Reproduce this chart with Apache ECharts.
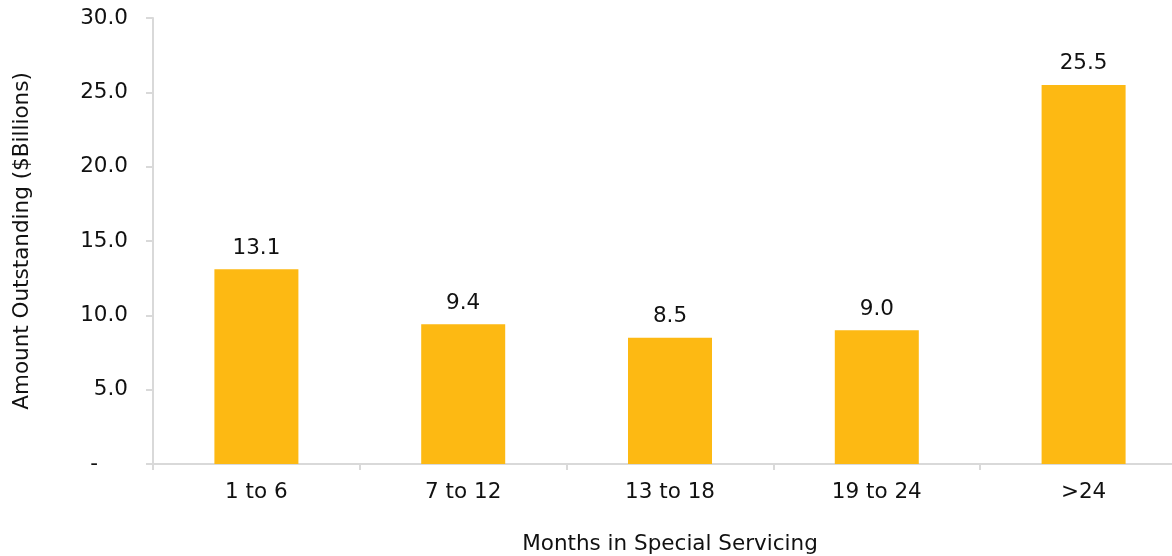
<!DOCTYPE html>
<html>
<head>
<meta charset="utf-8">
<script src="https://cdn.jsdelivr.net/npm/echarts@6/dist/echarts.min.js"></script>
<style>
html,body{margin:0;padding:0;background:#fff;overflow:hidden;}
#chart{width:1172px;height:556px;}
</style>
</head>
<body>
<div id="chart"></div>
<script>
const categories = ['1 to 6', '7 to 12', '13 to 18', '19 to 24', '>24'];
const values = [13.1, 9.4, 8.5, 9.0, 25.5];
const yTicks = [0, 5, 10, 15, 20, 25, 30];

const FONT = 'DejaVu Sans';
const FS = 21.5;
const TXT = '#111111';
const chart = echarts.init(document.getElementById('chart'), null, {renderer: 'canvas', width: 1172, height: 556});
chart.setOption({
  animation: false,
  backgroundColor: '#ffffff',
  grid: {left: 153, top: 18, width: 1034, height: 446, containLabel: false, outerBoundsMode: 'none'},
  xAxis: {
    type: 'category',
    data: categories,
    name: 'Months in Special Servicing',
    nameLocation: 'middle',
    nameGap: 69,
    nameTextStyle: {fontFamily: FONT, fontSize: FS, color: TXT},
    axisLine: {lineStyle: {color: '#d9d9d9', width: 2}},
    axisTick: {show: true, alignWithLabel: false, length: 6, lineStyle: {color: '#d9d9d9', width: 2}},
    axisLabel: {fontFamily: FONT, fontSize: FS, color: TXT, margin: 17}
  },
  yAxis: {
    type: 'value',
    min: yTicks[0],
    max: yTicks[yTicks.length - 1],
    interval: 5,
    name: 'Amount Outstanding ($Billions)',
    nameLocation: 'middle',
    nameGap: 120,
    nameTextStyle: {fontFamily: FONT, fontSize: FS, color: TXT},
    splitLine: {show: false},
    axisLine: {show: true, lineStyle: {color: '#d9d9d9', width: 2}},
    axisTick: {show: true, length: 7, lineStyle: {color: '#d9d9d9', width: 2}},
    axisLabel: {
      fontFamily: FONT, fontSize: FS, color: TXT, margin: 25,
      formatter: v => v === 0 ? '{d|-}' : v.toFixed(1),
      rich: {d: {fontFamily: FONT, fontSize: FS, color: TXT, padding: [0, 30, 0, 0]}}
    }
  },
  series: [{
    type: 'bar',
    data: values,
    barWidth: 84,
    itemStyle: {color: '#FDB913'},
    label: {
      show: true, position: 'top', distance: 10,
      fontFamily: FONT, fontSize: FS, color: TXT,
      formatter: p => p.value.toFixed(1)
    }
  }]
});
</script>
</body>
</html>
